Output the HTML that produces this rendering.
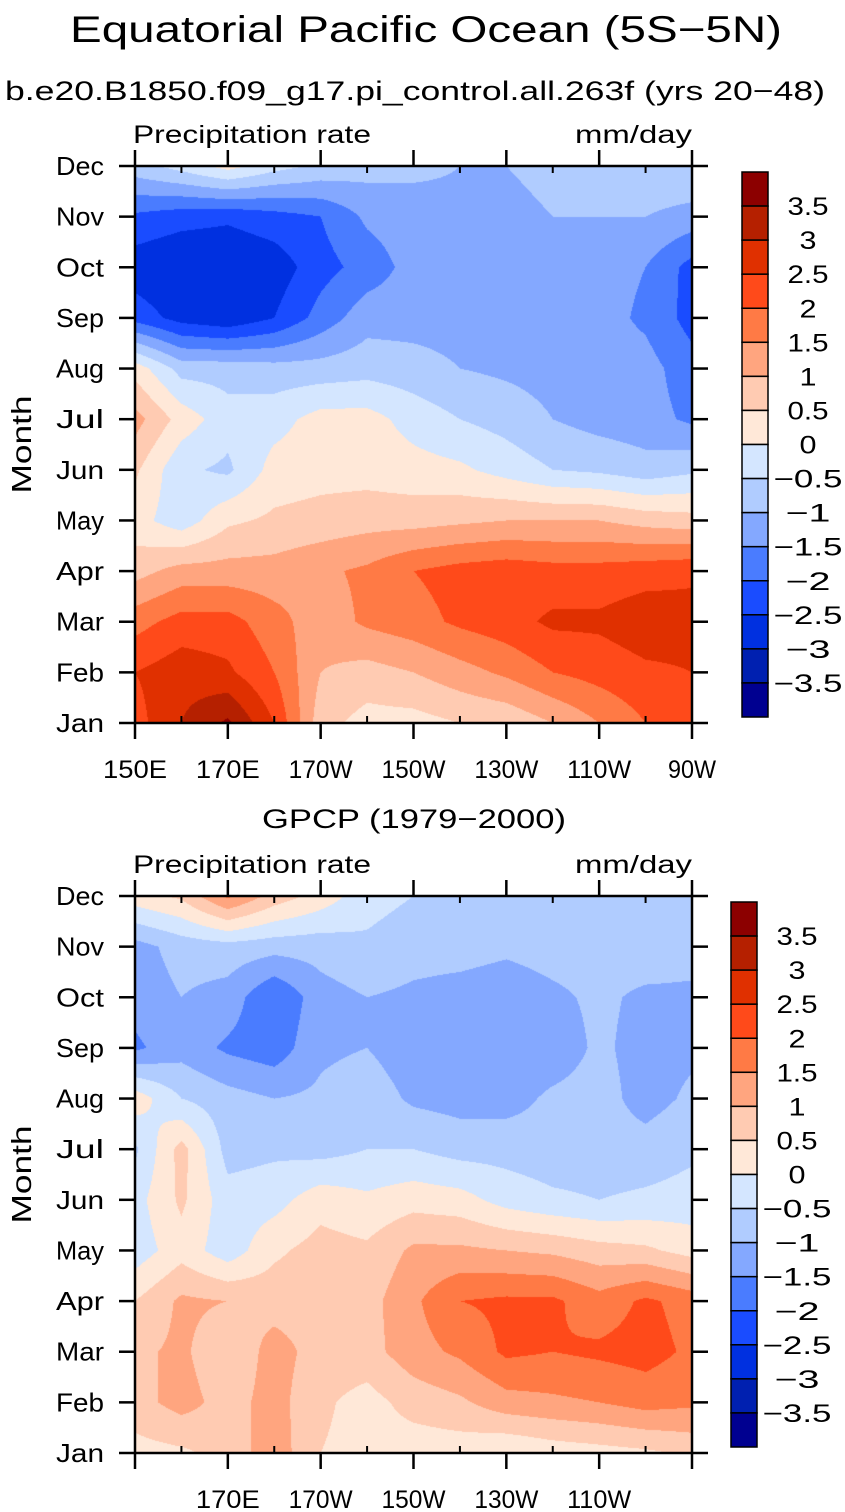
<!DOCTYPE html>
<html><head><meta charset="utf-8"><style>
html,body{margin:0;padding:0;background:#fff;}
#wrap{position:relative;width:845px;height:1512px;overflow:hidden;}
canvas{position:absolute;left:0;top:0;}
svg{position:absolute;left:0;top:0;}
text{font-family:"Liberation Sans",sans-serif;fill:#000;}
</style></head><body>
<div id="wrap">
<canvas id="cv" width="845" height="1512"></canvas>
<svg id="sv" width="845" height="1512" xmlns="http://www.w3.org/2000/svg">
<text x="426" y="42" font-size="37" text-anchor="middle" textLength="712" lengthAdjust="spacingAndGlyphs">Equatorial Pacific Ocean (5S−5N)</text>
<text x="415" y="100" font-size="27" text-anchor="middle" textLength="820" lengthAdjust="spacingAndGlyphs">b.e20.B1850.f09_g17.pi_control.all.263f (yrs 20−48)</text>
<text x="414" y="828" font-size="27" text-anchor="middle" textLength="304" lengthAdjust="spacingAndGlyphs">GPCP (1979−2000)</text>
</svg>
</div>
<script>
const months = ["Jan","Feb","Mar","Apr","May","Jun","Jul","Aug","Sep","Oct","Nov","Dec"];
const lons = [150,160,170,180,190,200,210,220,230,240,250,260,270];
const levels = [-3.5,-3,-2.5,-2,-1.5,-1,-0.5,0,0.5,1,1.5,2,2.5,3,3.5];
const levelLabels = ["3.5","3","2.5","2","1.5","1","0.5","0","−0.5","−1","−1.5","−2","−2.5","−3","−3.5"];
const palette = ["#000090","#0020b0","#0030e0","#1a4cff","#4a7cff","#84a8ff","#b0ccff","#d4e6ff","#ffe8d8","#ffcbb2","#ffa57f","#ff7a45","#ff4a1a","#e03000","#b52000","#8c0000"];
const modelValues = [
[2.3,3.0,3.6,2.5,0.7,0.3,0.3,0.5,0.6,1.0,1.5,2.0,2.1],
[2.5,2.8,2.6,2.0,1.0,0.8,1.0,1.3,1.6,2.0,2.2,2.4,2.5],
[1.8,2.2,2.2,1.7,1.2,1.6,1.8,2.1,2.3,2.6,2.6,2.8,2.7],
[0.8,1.2,1.2,1.2,1.4,1.6,2.0,2.2,2.3,2.2,2.2,2.3,2.4],
[0.2,-0.3,0.4,0.6,0.7,0.8,0.8,0.9,1.0,1.0,1.0,0.8,0.7],
[0.6,-0.4,-0.6,0.2,0.3,0.3,0.2,0.1,-0.2,-0.5,-0.6,-0.8,-0.6],
[1.2,0.3,-0.3,-0.2,0.2,0.2,-0.2,-0.5,-0.7,-1.0,-1.2,-1.3,-1.6],
[0.3,-0.7,-0.7,-0.8,-0.8,-0.7,-0.8,-1.0,-1.1,-1.2,-1.3,-1.3,-1.8],
[-2.2,-2.7,-2.9,-2.5,-1.8,-1.2,-1.2,-1.2,-1.2,-1.3,-1.3,-1.6,-2.2],
[-2.8,-3.0,-3.0,-2.8,-2.2,-1.8,-1.3,-1.2,-1.2,-1.3,-1.3,-1.5,-2.2],
[-2.1,-2.3,-2.4,-2.2,-2.0,-1.4,-1.2,-1.1,-1.1,-1.0,-1.0,-1.0,-1.2],
[-0.7,-0.3,0.2,-0.3,-0.6,-0.8,-0.9,-1.0,-1.0,-0.9,-0.8,-0.6,-0.5]
];
const obsValues = [
[0.3,0.4,0.7,1.3,0.5,0.3,0.2,0.2,0.0,0.2,0.3,0.4,0.6],
[0.8,1.2,0.8,1.2,0.6,0.3,0.7,0.9,1.3,1.4,1.5,1.7,1.6],
[0.9,1.1,0.6,1.2,0.8,0.8,1.3,1.6,2.1,2.0,2.1,2.2,1.9],
[0.5,1.1,1.0,0.8,0.8,0.8,1.4,2.0,2.1,2.1,1.7,2.1,1.8],
[-0.3,0.3,-0.3,0.4,0.7,0.6,1.1,1.1,1.0,0.9,0.7,0.6,0.3],
[-0.2,0.6,-0.3,-0.2,0.3,0.1,0.3,0.2,-0.2,-0.4,-0.5,-0.4,-0.3],
[-0.6,0.7,-0.7,-0.6,-0.7,-0.5,-0.5,-0.7,-0.7,-0.8,-0.8,-0.8,-0.6],
[0.3,-0.5,-0.8,-1.0,-0.9,-0.7,-1.1,-1.2,-1.2,-0.9,-0.8,-1.2,-0.9],
[-1.6,-1.2,-1.6,-1.8,-1.1,-1.0,-1.3,-1.4,-1.4,-1.3,-0.9,-1.2,-1.1],
[-1.3,-1.0,-1.2,-2.0,-1.2,-1.0,-1.1,-1.2,-1.3,-1.1,-0.9,-1.1,-1.1],
[-1.2,-0.8,-0.7,-0.8,-0.8,-0.6,-0.8,-0.8,-0.9,-0.8,-0.8,-0.7,-0.8],
[0.3,0.6,1.6,0.8,0.3,-0.3,-0.5,-0.6,-0.6,-0.6,-0.6,-0.5,-0.5]
];
const xTickLons = [150,170,190,210,230,250,270];
const xTickLabels1 = ["150E","170E","170W","150W","130W","110W","90W"];
const xTickLabels2 = ["","170E","170W","150W","130W","110W",""];

const NS="http://www.w3.org/2000/svg";
const sv=document.getElementById('sv');
const ctx=document.getElementById('cv').getContext('2d');
function mk(tag,attrs,txt){const e=document.createElementNS(NS,tag);for(const k in attrs)e.setAttribute(k,attrs[k]);if(txt!==undefined)e.textContent=txt;sv.appendChild(e);return e;}
function hex(c){return [parseInt(c.substr(1,2),16),parseInt(c.substr(3,2),16),parseInt(c.substr(5,2),16)];}
const pal=palette.map(hex);
function bin(v){let i=0;while(i<levels.length&&v>=levels[i])i++;return i;}
function tw(s){let w=0;for(const ch of s){w+= ch=='.'?7: ch=='−'?28 : (ch>='0'&&ch<='9')?17:17;}return w;}

function panel(vals,top,cbX,cbTop,cbLabelX,xLabels,tag){
  const L=135,R=692,T=top,B=top+557;
  const W=R-L,H=B-T;
  const xs=lon=>L+(lon-lons[0])/(lons[lons.length-1]-lons[0])*W;
  const ys=m=>B-m/11*H;
  const img=ctx.createImageData(W,H);
  for(let py=0;py<H;py++){
    const m=(B-(T+py+0.5))/H*11;
    const m0=Math.max(0,Math.min(10,Math.floor(m))),fm=m-m0;
    for(let px=0;px<W;px++){
      const g=(px+0.5)/W*(lons.length-1);
      const g0=Math.max(0,Math.min(lons.length-2,Math.floor(g))),fg=g-g0;
      const a=vals[m0][g0]*(1-fg)+vals[m0][g0+1]*fg;
      const b=vals[m0+1][g0]*(1-fg)+vals[m0+1][g0+1]*fg;
      const v=a*(1-fm)+b*fm;
      const c=pal[bin(v)];const o=(py*W+px)*4;
      img.data[o]=c[0];img.data[o+1]=c[1];img.data[o+2]=c[2];img.data[o+3]=255;
    }
  }
  ctx.putImageData(img,L,T);
  let e;
  e=mk('rect',{x:L,y:T,width:W,height:H,fill:'none',stroke:'#000','stroke-width':2.5});
  
  months.forEach((mn,i)=>{
    const y=ys(i);
    mk('line',{x1:L-16,x2:L,y1:y,y2:y,stroke:'#000','stroke-width':2.5});
    mk('line',{x1:R,x2:R+16,y1:y,y2:y,stroke:'#000','stroke-width':2.5});
    e=mk('text',{x:104,y:y+9,'font-size':26,'text-anchor':'end',textLength:mn.length*16,lengthAdjust:'spacingAndGlyphs'},mn);
    
  });
  for(let lon=lons[0];lon<=lons[lons.length-1];lon+=10){
    const x=xs(lon);
    const major=xTickLons.indexOf(lon)>=0;
    if(major){mk('line',{x1:x,x2:x,y1:B,y2:B+16,stroke:'#000','stroke-width':2.5});mk('line',{x1:x,x2:x,y1:T-16,y2:T,stroke:'#000','stroke-width':2.5});}
    else{mk('line',{x1:x,x2:x,y1:B-7,y2:B,stroke:'#000','stroke-width':2});mk('line',{x1:x,x2:x,y1:T,y2:T+7,stroke:'#000','stroke-width':2});}
  }
  xTickLons.forEach((lon,i)=>{
    if(!xLabels[i])return;
    e=mk('text',{x:xs(lon),y:B+55,'font-size':25,'text-anchor':'middle',textLength:xLabels[i].length*16,lengthAdjust:'spacingAndGlyphs'},xLabels[i]);
    
  });
  e=mk('text',{x:133,y:T-23,'font-size':25,textLength:238,lengthAdjust:'spacingAndGlyphs'},'Precipitation rate');
  
  e=mk('text',{x:692,y:T-23,'font-size':25,'text-anchor':'end',textLength:117,lengthAdjust:'spacingAndGlyphs'},'mm/day');
  
  e=mk('text',{x:0,y:0,'font-size':28,'text-anchor':'middle',textLength:98,lengthAdjust:'spacingAndGlyphs',transform:`translate(31,${(T+B)/2}) rotate(-90)`},'Month');
  
  const bh=545/palette.length;
  for(let k=0;k<palette.length;k++){
    const idx=palette.length-1-k;
    e=mk('rect',{x:cbX,y:cbTop+k*bh,width:26,height:bh,fill:palette[idx],stroke:'#000','stroke-width':1.5});
    
  }
  levelLabels.forEach((lb,k)=>{
    e=mk('text',{x:cbLabelX,y:cbTop+(k+1)*bh+9,'font-size':25,'text-anchor':'middle',textLength:tw(lb),lengthAdjust:'spacingAndGlyphs'},lb);
    
  });
}
panel(modelValues,166,742,172,808,xTickLabels1,'model');
panel(obsValues,896,731,902,797,xTickLabels2,'obs');
</script>
</body></html>
